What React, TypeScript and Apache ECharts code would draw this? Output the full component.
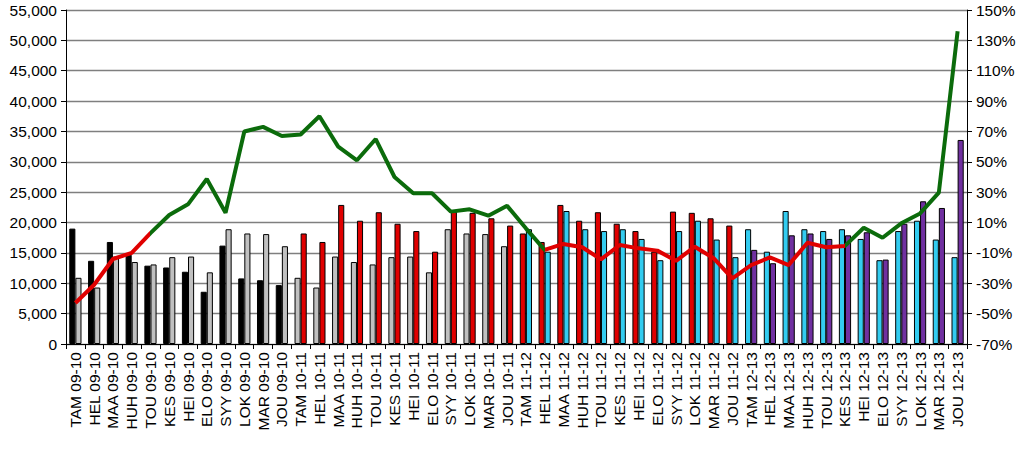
import React, { useEffect, useRef } from "react";
import * as echarts from "echarts";

const months = ["TAM", "HEL", "MAA", "HUH", "TOU", "KES", "HEI", "ELO", "SYY", "LOK", "MAR", "JOU"];
const seasons = ["09-10", "10-11", "11-12", "12-13"];

// yearly values (visits)
const year0809 = [19000, 13700, 16800, 14700, 12900, 12600, 11900, 8600, 16200, 10800, 10500, 9700];
const year0910 = [10900, 9300, 14400, 13500, 13100, 14300, 14400, 11800, 18900, 18200, 18100, 16100];
const year1011 = [18200, 16800, 22900, 20300, 21700, 19800, 18600, 15200, 21800, 21600, 20700, 19500];
const year1112 = [18900, 15200, 21900, 18900, 18600, 18900, 17300, 13800, 18600, 20300, 17200, 14300];
const year1213 = [15500, 13300, 17900, 18200, 17300, 17900, 18400, 13900, 19800, 23500, 22400, 33600];

// change (%) line
const changePct = [
  -43, -31, -14, -10, 3, 15, 22, 38.7, 16.5, 70, 73, 67,
  68, 80, 60, 51, 65, 40, 29.3, 29.3, 17.2, 18.7, 14.5, 21,
  6.2, -8, -4.1, -6.3, -14.2, -4.8, -7, -8.5, -15.2, -5.9, -13.5, -26.7,
  -18, -13, -18, -3.3, -6.3, -5.4, 6.6, 0, 9.5, 16, 29.7, 136,
];

const yearColors = ["#000000", "#C0C0C0", "#E00000", "#33CCF0", "#7030A0"];
const years = [year0809, year0910, year1011, year1112, year1213];

const categories = seasons.flatMap((s) => months.map((m) => `${m} ${s}`));

const FONT = "Liberation Sans, Arial, sans-serif";

export default function App() {
  const ref = useRef<HTMLDivElement>(null);

  useEffect(() => {
    if (!ref.current) return;
    const chart = echarts.init(ref.current, null, { renderer: "svg" });

    const prevData = seasons.flatMap((_, si) =>
      years[si].map((v) => ({ value: v, itemStyle: { color: yearColors[si] } }))
    );
    const currData = seasons.flatMap((_, si) =>
      years[si + 1].map((v) => ({ value: v, itemStyle: { color: yearColors[si + 1] } }))
    );

    const barCommon = {
      type: "bar",
      barGap: "0%",
      barCategoryGap: "35%",
      itemStyle: { borderColor: "#000", borderWidth: 1 },
    };

    chart.setOption({
      animation: false,
      grid: { left: 66, right: 57, top: 10, bottom: 106 },
      xAxis: {
        type: "category",
        data: categories,
        axisLine: { show: true, lineStyle: { color: "#000", width: 1 } },
        axisTick: { show: true, length: 5, lineStyle: { color: "#000" } },
        axisLabel: {
          rotate: 90,
          interval: 0,
          fontSize: 15.5,
          color: "#000",
          fontFamily: FONT,
          margin: 8,
        },
      },
      yAxis: [
        {
          type: "value",
          min: 0,
          max: 55000,
          interval: 5000,
          axisLine: { show: true, lineStyle: { color: "#000", width: 1 } },
          axisTick: { show: true, length: 5, lineStyle: { color: "#000" } },
          splitLine: { show: true, lineStyle: { color: "#7f7f7f", width: 1.3 } },
          axisLabel: {
            fontSize: 15.5,
            color: "#000",
            fontFamily: FONT,
            margin: 9,
            formatter: (v: number) => v.toLocaleString("en-US"),
          },
        },
        {
          type: "value",
          position: "right",
          min: -70,
          max: 150,
          interval: 20,
          axisLine: { show: true, lineStyle: { color: "#000", width: 1 } },
          axisTick: { show: true, length: 5, lineStyle: { color: "#000" } },
          splitLine: { show: false },
          axisLabel: {
            fontSize: 15.5,
            color: "#000",
            fontFamily: FONT,
            margin: 9,
            formatter: "{value}%",
          },
        },
      ],
      visualMap: {
        type: "piecewise",
        show: false,
        dimension: 0,
        seriesIndex: 2,
        pieces: [
          { lte: 4, color: "#E00000" },
          { gt: 4, lte: 25, color: "#0B6B0B" },
          { gt: 25, lte: 41, color: "#E00000" },
          { gt: 41, color: "#0B6B0B" },
        ],
      },
      series: [
        { ...barCommon, name: "prev", data: prevData },
        { ...barCommon, name: "curr", data: currData },
        {
          type: "line",
          name: "change",
          yAxisIndex: 1,
          data: changePct,
          showSymbol: false,
          symbol: "none",
          lineStyle: { width: 4 },
          z: 5,
        },
      ],
    });

    return () => chart.dispose();
  }, []);

  return (
    <div
      ref={ref}
      style={{ position: "absolute", left: 0, top: 0, width: 1024, height: 450, background: "#fff" }}
    />
  );
}
